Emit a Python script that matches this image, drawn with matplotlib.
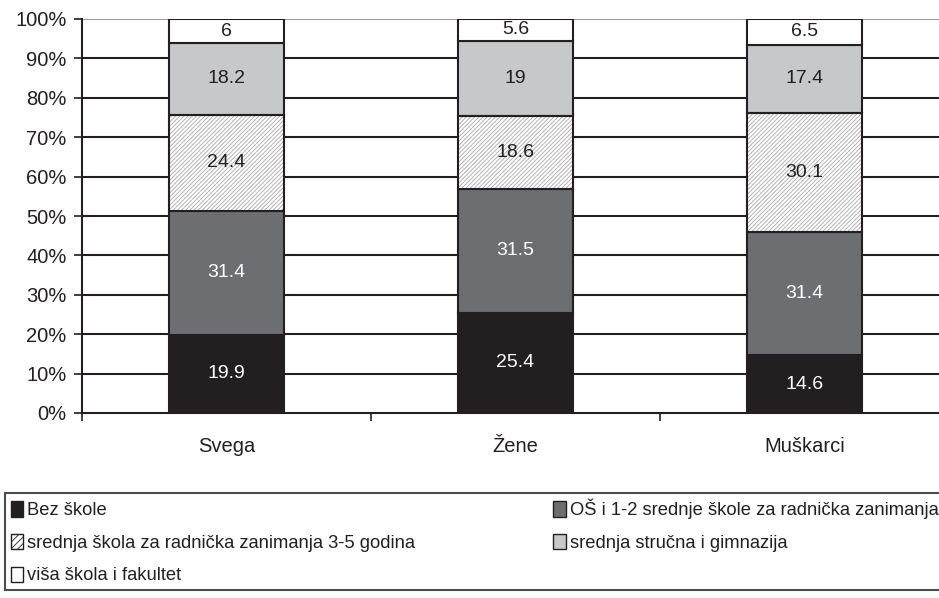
import numpy as np
import matplotlib.pyplot as plt
from matplotlib.patches import Patch

plt.rcParams['font.family'] = ['Liberation Sans', 'DejaVu Sans']
plt.rcParams['hatch.linewidth'] = 0.6

groups = ['Svega', 'Žene', 'Muškarci']
series = ['Bez škole',
          'OŠ i 1-2 srednje škole za radnička zanimanja',
          'srednja škola za radnička zanimanja 3-5 godina',
          'srednja stručna i gimnazija',
          'viša škola i fakultet']
bez = [19.9, 25.4, 14.6]
os12 = [31.4, 31.5, 31.4]
srednja35 = [24.4, 18.6, 30.1]
strucna = [18.2, 19.0, 17.4]
visa = [6.0, 5.6, 6.5]
values = [bez, os12, srednja35, strucna, visa]
labels = [['19.9', '25.4', '14.6'], ['31.4', '31.5', '31.4'],
          ['24.4', '18.6', '30.1'], ['18.2', '19', '17.4'], ['6', '5.6', '6.5']]

fills = ['#231f20', '#6d6e71', 'white', '#c7c8ca', 'white']
txtcol = ['white', 'white', '#231f20', '#231f20', '#231f20']

fig = plt.figure(figsize=(9.39, 5.98), dpi=100)
ax = fig.add_axes([82/939, 1-413/598, 867/939, (413-19)/598])

x = np.arange(len(groups))
w = 0.4
bottom = np.zeros(3)
for i, vals in enumerate(values):
    vals = np.array(vals)
    if i == 2:
        ax.bar(x, vals, w, bottom=bottom, color='white', edgecolor='#a8a8a8',
               hatch='////////', linewidth=0, zorder=3)
        ax.bar(x, vals, w, bottom=bottom, fill=False, edgecolor='#231f20',
               linewidth=1.5, zorder=4)
    else:
        ax.bar(x, vals, w, bottom=bottom, color=fills[i], edgecolor='#231f20',
               linewidth=1.5, zorder=3)
    for j in range(3):
        ax.text(x[j], bottom[j] + vals[j] / 2, labels[i][j], ha='center',
                va='center', fontsize=14, color=txtcol[i], zorder=5)
    bottom += vals

ax.set_xlim(-0.5, 2.5)
ax.set_ylim(0, 100)
yt = np.arange(0, 101, 10)
ax.set_yticks(yt)
ax.set_yticklabels([f'{v}%' for v in yt], fontsize=14.5, color='#231f20')
for v in yt[1:]:
    ax.axhline(v, color='#9a9a9a' if v == 100 else '#231f20', lw=1.5, zorder=1)
ax.set_xticks([-0.5, 0.5, 1.5])
ax.set_xticklabels([])
ax.tick_params(axis='x', length=6, width=1.2, color='#231f20')
ax.tick_params(axis='y', length=6, width=1.2, color='#231f20', pad=5)
for j, g in enumerate(groups):
    ax.text(x[j], -8.6, g, ha='center', va='center', fontsize=14.5, color='#231f20')
for s in ['top', 'right']:
    ax.spines[s].set_visible(False)
ax.spines['left'].set_linewidth(1.5)
ax.spines['bottom'].set_linewidth(1.5)
ax.spines['left'].set_color('#231f20')
ax.spines['bottom'].set_color('#231f20')

handles = [Patch(facecolor=fills[i], edgecolor='#231f20', lw=1,
                 hatch='/////' if i == 2 else None) for i in range(5)]
order = [0, 2, 4, 1, 3]
leg = fig.legend([handles[i] for i in order], [series[i] for i in order],
                 ncol=2, loc='lower left', bbox_to_anchor=(5/939, 8/598, 1.0, 96/598),
                 mode='expand', fancybox=False, edgecolor='#231f20',
                 handlelength=0.7, handleheight=0.9, handletextpad=0.2,
                 labelspacing=0.8, borderaxespad=0, borderpad=0.3,
                 columnspacing=1.0,
                 prop={'size': 13.2})
leg.get_frame().set_linewidth(1.5)
for t in leg.get_texts():
    t.set_color('#231f20')

fig.savefig('out.png', dpi=100)
